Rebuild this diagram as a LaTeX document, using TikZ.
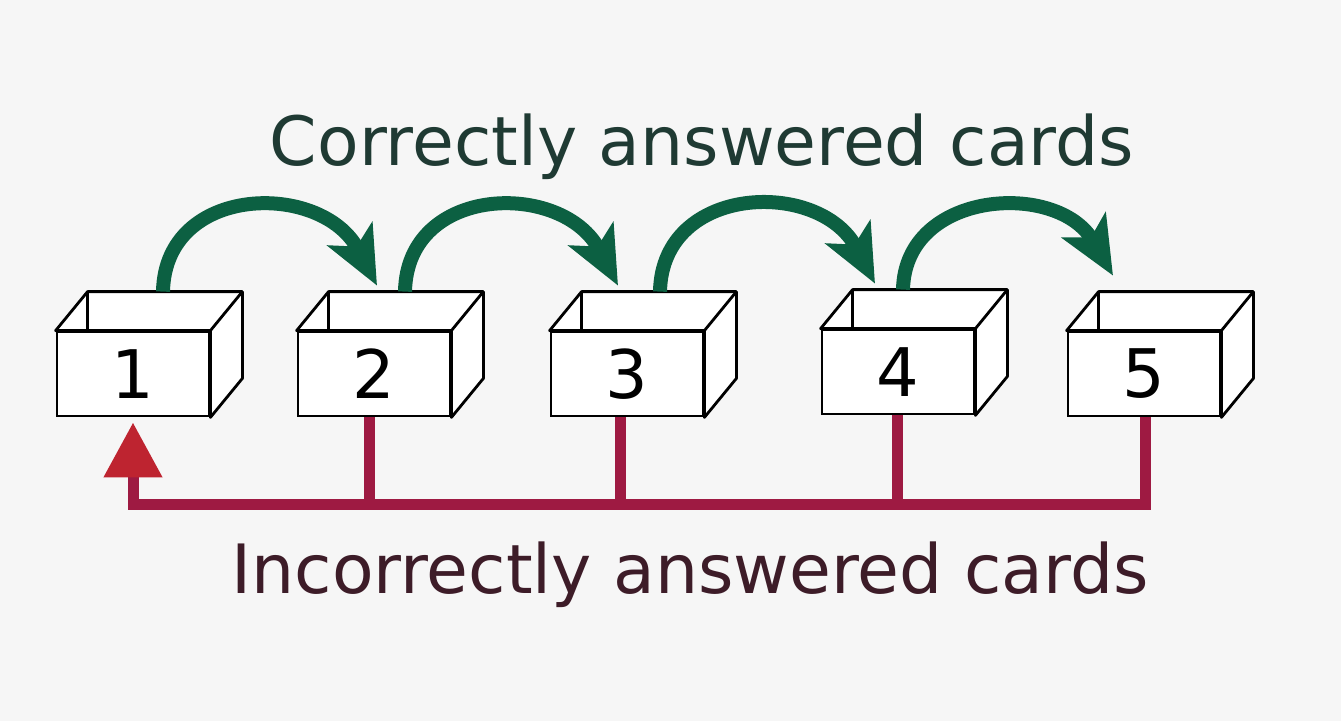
\documentclass[tikz,border=0pt]{standalone}
\usepackage{fontspec}
\setmainfont{DejaVu Sans}
\usetikzlibrary{arrows.meta,calc}
\definecolor{bg}{HTML}{F6F6F6}
\definecolor{grn}{RGB}{12,96,66}
\definecolor{crim}{RGB}{158,26,66}
\definecolor{crimhead}{RGB}{190,36,48}
\definecolor{gtext}{HTML}{1F3A33}
\definecolor{rtext}{HTML}{3D1C28}
\tikzset{
  cardbox/.style={draw=black, line width=2.8pt, fill=white, minimum width=152pt, minimum height=84pt, inner sep=0pt, font=\fontsize{67}{80}\selectfont},
  boxline/.style={draw=black, line width=2.8pt, line join=round},
  garrow/.style={draw=grn, line width=14pt, -{Stealth[length=58pt, width=50pt, inset=14pt]}},
  redline/.style={draw=crim, line width=11pt},
  title/.style={anchor=base, font=\fontsize{68}{80}\selectfont, inner sep=0pt}
}
\begin{document}
\begin{tikzpicture}[x=1pt, y=-1pt]
\fill[bg] (0,0) rectangle (1341,721);
\useasboundingbox (0,0) rectangle (1341,721);

% front faces with numbers
\node[cardbox] (b1) at (133,374) {1};
\node[cardbox] (b2) at (374,374) {2};
\node[cardbox] (b3) at (627,374) {3};
\node[cardbox] (b4) at (898,372) {4};
\node[cardbox] (b5) at (1144,374) {5};

% top opening and right side of each box
\foreach \b in {b1,b2,b3,b4,b5}{
  \draw[boxline, fill=white] (\b.north west) -- ++(32,-39) -- ($(\b.north east)+(32,-39)$) -- ($(\b.south east)+(32,-39)$) -- (\b.south east) -- (\b.north east) -- cycle;
  \draw[boxline] ($(\b.north west)+(32,-39)$) -- ++(0,39);
  \draw[boxline] (\b.north east) -- ++(32,-39);
}

% titles
\node[title, text=gtext] (tc) at (702,165) {Correctly answered cards};
\node[title, text=rtext] (ti) at (690,593) {Incorrectly answered cards};

% green arrows (correct answers)
\coordinate (g1s) at ($(b1.north)+(30,-39)$);
\coordinate (g1e) at ($(b2.north)+(3,-45)$);
\coordinate (g2s) at ($(b2.north)+(31,-39)$);
\coordinate (g2e) at ($(b3.north)+(-9,-45)$);
\coordinate (g3s) at ($(b3.north)+(33,-39)$);
\coordinate (g3e) at ($(b4.north)+(-23,-45)$);
\coordinate (g4s) at ($(b4.north)+(5,-39)$);
\coordinate (g4e) at ($(b5.north)+(-31,-55)$);
\draw[garrow] (g1s) .. controls +(2,-108) and +(-55,-105) .. (g1e);
\draw[garrow] (g2s) .. controls +(2,-108) and +(-55,-105) .. (g2e);
\draw[garrow] (g3s) .. controls +(2,-108) and +(-55,-105) .. (g3e);
\draw[garrow] (g4s) .. controls +(2,-100) and +(-55,-95) .. (g4e);

% red lines (incorrect answers)
\coordinate (r1) at ($(b1.south)+(0,87)$);
\coordinate (r2) at ($(b2.south)+(-5,87)$);
\coordinate (r3) at ($(b3.south)+(-7,87)$);
\coordinate (r4) at ($(b4.south)+(-1,89)$);
\coordinate (r5) at ($(b5.south)+(1,87)$);
\draw[redline] (r2 |- b2.south) -- (r2);
\draw[redline] (r3 |- b3.south) -- (r3);
\draw[redline] (r4 |- b4.south) -- (r4);
\draw[redline, line join=miter, shorten >=5pt, -{Triangle[length=55pt, width=56pt, color=crimhead]}] (r5 |- b5.south) -- (r5) -- (r1) -- (b1.south);
\end{tikzpicture}
\end{document}
